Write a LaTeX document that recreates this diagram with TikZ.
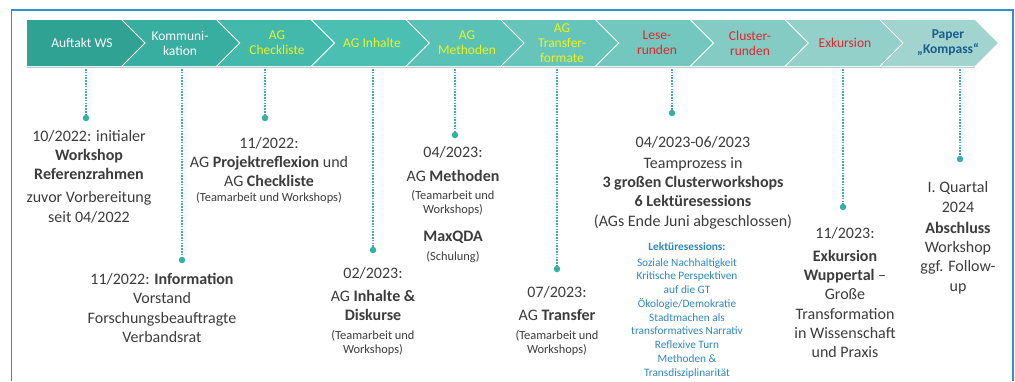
\documentclass[tikz,border=0pt]{standalone}
\usepackage{fontspec}
\setmainfont{Carlito}
\definecolor{frameblue}{HTML}{2F8FD0}
\definecolor{txt}{HTML}{3C3C3C}
\definecolor{bluet}{HTML}{2E86C1}
\definecolor{conn}{HTML}{4AA9A0}
\definecolor{dotc}{HTML}{35B0A5}
\definecolor{yel}{HTML}{EEF21A}
\definecolor{redt}{HTML}{E2252B}
\definecolor{papert}{HTML}{1A5C8A}
\definecolor{shadow}{HTML}{B9CBC8}
\definecolor{ch0}{HTML}{30A294}
\definecolor{ch1}{HTML}{38AEA0}
\definecolor{ch2}{HTML}{43B9AC}
\definecolor{ch3}{HTML}{4CBFB3}
\definecolor{ch4}{HTML}{5AC1B7}
\definecolor{ch5}{HTML}{67C4BA}
\definecolor{ch6}{HTML}{74C7BE}
\definecolor{ch7}{HTML}{84CBC4}
\definecolor{ch8}{HTML}{93D0C9}
\definecolor{ch9}{HTML}{A1D4CF}
\tikzset{
  maintext/.style={text=txt, align=center, font=\fontsize{16}{19.3}\selectfont, inner sep=0pt},
  smalltext/.style={text=txt, align=center, font=\fontsize{12.4}{14}\selectfont, inner sep=0pt},
  bluetext/.style={text=bluet, align=center, font=\fontsize{11.3}{13.75}\selectfont, inner sep=0pt},
  chevtext/.style={align=center, font=\fontsize{13.5}{15}\selectfont, inner sep=0pt},
  connline/.style={draw=conn, line width=1.1pt, dash pattern=on 1.6pt off 1.2pt},
  dotnode/.style={circle, fill=dotc, inner sep=0pt, minimum size=6.5pt},
}
\begin{document}
\begin{tikzpicture}[x=1pt,y=-1pt]
\useasboundingbox (0,0) rectangle (1015,381);
% frame
\draw[frameblue, line width=1.3pt] (11.5,381) -- (11.5,10) -- (1013,10) -- (1013,381);
% chevrons
\fill[ch0] (27,20) -- (122,20) -- (145,43) -- (122,66) -- (27,66) -- cycle;
\foreach \i/\c in {1/ch1,2/ch2,3/ch3,4/ch4,5/ch5,6/ch6,7/ch7,8/ch8,9/ch9}{
  \pgfmathsetmacro{\bl}{122+94.75*(\i-1)}
  \pgfmathsetmacro{\br}{122+94.75*\i}
  \fill[\c] (\bl,20) -- (\br,20) -- (\br+23,43) -- (\br,66) -- (\bl,66) -- (\bl+23,43) -- cycle;
}
\foreach \i in {1,...,9}{
  \pgfmathsetmacro{\bl}{122+94.75*(\i-1)}
  \draw[white, line width=1pt] (\bl,20) -- (\bl+23,43) -- (\bl,66);
}
\draw[shadow, line width=1.5pt] (27,67.3) -- (975,67.3);
% chevron labels
\node[chevtext, text=white] (c1) at (82,43) {Auftakt WS};
\node[chevtext, text=white] (c2) at (180,43) {Kommuni-\\kation};
\node[chevtext, text=yel] (c3) at (277,43) {AG\\Checkliste};
\node[chevtext, text=yel] (c4) at (372,43) {AG Inhalte};
\node[chevtext, text=yel] (c5) at (467,43) {AG\\Methoden};
\node[chevtext, text=yel] (c6) at (562,43) {AG\\Transfer-\\formate};
\node[chevtext, text=redt] (c7) at (657,43) {Lese-\\runden};
\node[chevtext, text=redt] (c8) at (750,43) {Cluster-\\runden};
\node[chevtext, text=redt] (c9) at (845,43) {Exkursion};
\node[chevtext, text=papert, font=\fontsize{13.5}{15}\selectfont\bfseries] (c10) at (948,43) {Paper\\„Kompass“};
% connectors
\foreach \n/\x/\y in {1/86/118, 2/182/260, 3/265/118, 4/373/250, 5/455/135, 6/557/269, 7/672/113, 8/843/207, 9/960/159}{
  \coordinate (t\n) at (\x,69);
  \node[dotnode] (d\n) at (\x,\y) {};
  \draw[connline] (t\n) -- (d\n);
}
% block 1
\node[maintext] (b1a) at (89,155) {10/2022: initialer\\\textbf{Workshop}\\\textbf{Referenzrahmen}};
\node[maintext, font=\fontsize{16}{20}\selectfont] (b1b) at (89,207) {zuvor Vorbereitung\\seit 04/2022};
% block 2
\node[maintext] (b2) at (162,308) {11/2022: \textbf{Information}\\Vorstand\\Forschungsbeauftragte\\Verbandsrat};
% block 3
\node[maintext] (b3a) at (269,162) {11/2022:\\AG \textbf{Projektreflexion} und\\AG \textbf{Checkliste}};
\node[smalltext] (b3b) at (269,198) {(Teamarbeit und Workshops)};
% block 4
\node[maintext] (b4a) at (373,273) {02/2023:};
\node[maintext] (b4b) at (373,305.5) {AG \textbf{Inhalte \&}\\\textbf{Diskurse}};
\node[smalltext] (b4c) at (373,342.5) {(Teamarbeit und\\Workshops)};
% block 5
\node[maintext] (b5a) at (453,152) {04/2023:};
\node[maintext] (b5b) at (453,176) {AG \textbf{Methoden}};
\node[smalltext] (b5c) at (453,203) {(Teamarbeit und\\Workshops)};
\node[maintext] (b5d) at (453,237) {\textbf{MaxQDA}};
\node[smalltext] (b5e) at (453,257) {(Schulung)};
% block 6
\node[maintext] (b6a) at (557,292) {07/2023:};
\node[maintext] (b6b) at (557,315) {AG \textbf{Transfer}};
\node[smalltext] (b6c) at (557,343) {(Teamarbeit und\\Workshops)};
% block 7
\node[maintext] (b7a) at (693,142) {04/2023-06/2023};
\node[maintext] (b7b) at (693,193) {Teamprozess in\\\textbf{3 großen Clusterworkshops}\\\textbf{6 Lektüresessions}\\(AGs Ende Juni abgeschlossen)};
\node[bluetext] (b7c) at (687,247) {\textbf{Lektüresessions:}};
\node[bluetext] (b7d) at (687,318) {Soziale Nachhaltigkeit\\Kritische Perspektiven\\auf die GT\\Ökologie/Demokratie\\Stadtmachen als\\transformatives Narrativ\\Reflexive Turn\\Methoden \&\\Transdisziplinarität};
% block 8
\node[maintext] (b8a) at (845,233) {11/2023:};
\node[maintext] (b8b) at (845,304) {\textbf{Exkursion}\\\textbf{Wuppertal} –\\Große\\Transformation\\in Wissenschaft\\und Praxis};
% block 9
\node[maintext, font=\fontsize{16}{20}\selectfont] (b9a) at (958,197) {I. Quartal\\2024};
\node[maintext] (b9b) at (958,258) {\textbf{Abschluss}\\Workshop\\ggf. Follow-\\up};
\end{tikzpicture}
\end{document}
